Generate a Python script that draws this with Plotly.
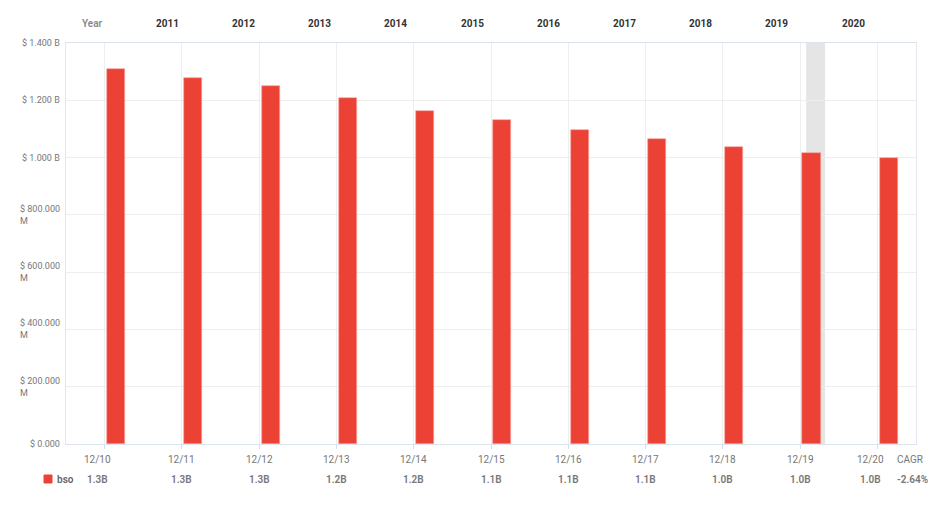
import plotly.graph_objects as go

# ---------------- data ----------------
periods = ["12/10", "12/11", "12/12", "12/13", "12/14", "12/15",
           "12/16", "12/17", "12/18", "12/19", "12/20"]
years = ["Year", "2011", "2012", "2013", "2014", "2015",
         "2016", "2017", "2018", "2019", "2020"]
bso = [1.3075e9, 1.2767e9, 1.2500e9, 1.2069e9, 1.1626e9, 1.1320e9,
       1.0960e9, 1.0650e9, 1.0370e9, 1.0150e9, 0.9985e9]
bso_labels = ["1.3B", "1.3B", "1.3B", "1.2B", "1.2B", "1.1B",
              "1.1B", "1.1B", "1.0B", "1.0B", "1.0B"]
cagr_label = "-2.64%"
series_name = "bso"
y_ticks = [0, 200e6, 400e6, 600e6, 800e6, 1000e6, 1200e6, 1400e6]
y_tick_labels = ["$ 0.000", "$ 200.000<br>M", "$ 400.000<br>M", "$ 600.000<br>M",
                 "$ 800.000<br>M", "$ 1.000 B", "$ 1.200 B", "$ 1.400 B"]
highlight_index = 9

# ---------------- style ----------------
BAR = "#EC4236"
FONT = "Roboto"
W, H = 936, 514
ML, MR, MT, MB = 66, 20, 43, 70
plot_w = W - ML - MR
n = len(periods)
slot = plot_w / n

x = list(range(n))
fig = go.Figure()
fig.add_trace(go.Bar(
    x=x, y=bso, name=series_name, marker_color=BAR,
    marker_line=dict(color="#f3a39d", width=0.6),
    offset=0.03, width=0.235, showlegend=False, hoverinfo="skip",
))

shapes = []
# hover highlight band
shapes.append(dict(type="rect", xref="x", yref="paper", layer="below",
                   x0=highlight_index + 6 / slot, x1=highlight_index + 25 / slot,
                   y0=0, y1=1, fillcolor="#e5e5e5", line_width=0))
# legend swatch
shapes.append(dict(type="rect", xref="paper", yref="paper",
                   xsizemode="pixel", ysizemode="pixel", xanchor=0, yanchor=0,
                   x0=-22, x1=-14, y0=-31, y1=-39,
                   fillcolor=BAR, line=dict(color=BAR, width=1)))

ann = []
# y-axis labels
for v, t in zip(y_ticks, y_tick_labels):
    ann.append(dict(xref="paper", yref="y", x=0, y=v, xshift=-4, text=t,
                    showarrow=False, xanchor="right", yanchor="middle", align="left",
                    font=dict(family=FONT, size=9, color="#777")))
# top year labels (table columns)
col_w = 76.2
for i, t in enumerate(years):
    ann.append(dict(xref="paper", yref="paper",
                    x=(slot / 2 + col_w * i) / plot_w, y=1, yshift=20,
                    text=t, showarrow=False, xanchor="right", yanchor="middle",
                    font=dict(family=FONT, size=10,
                              color="#888" if i == 0 else "#333",
                              weight=600 if i == 0 else 700)))
# bottom period labels and values
for i, (p, vl) in enumerate(zip(periods, bso_labels)):
    sh = -7 if i in (0, n - 1) else 0
    ann.append(dict(xref="x", yref="paper", x=i, y=0, xshift=sh, yshift=-15,
                    text=p, showarrow=False, xanchor="center", yanchor="middle",
                    font=dict(family=FONT, size=10, color="#777")))
    ann.append(dict(xref="x", yref="paper", x=i, y=0, xshift=sh - 12.5, yshift=-35,
                    text=vl, showarrow=False, xanchor="left", yanchor="middle",
                    font=dict(family=FONT, size=10, color="#777", weight=600)))
ann.append(dict(xref="paper", yref="paper", x=1, y=0, xshift=-21, yshift=-15,
                text="CAGR", showarrow=False, xanchor="left", yanchor="middle",
                font=dict(family=FONT, size=10, color="#777")))
ann.append(dict(xref="paper", yref="paper", x=1, y=0, xshift=-21, yshift=-35,
                text=cagr_label, showarrow=False, xanchor="left", yanchor="middle",
                font=dict(family=FONT, size=10, color="#777", weight=600)))
ann.append(dict(xref="paper", yref="paper", x=0, y=0, xshift=-11, yshift=-35,
                text=series_name, showarrow=False, xanchor="left", yanchor="middle",
                font=dict(family=FONT, size=10, color="#666", weight=600)))

fig.update_layout(
    width=W, height=H, margin=dict(l=ML, r=MR, t=MT, b=MB, pad=0),
    paper_bgcolor="white", plot_bgcolor="white",
    shapes=shapes, annotations=ann, bargap=0,
    xaxis=dict(range=[-0.5, n - 0.5], tickvals=x, showticklabels=False,
               showgrid=True, gridcolor="#eeeeee", gridwidth=1,
               ticks="outside", ticklen=4, tickcolor="#d9dfe9",
               showline=True, linecolor="#dde3ec", linewidth=1, mirror=True,
               zeroline=False, fixedrange=True),
    yaxis=dict(range=[0, 1.4e9], tickvals=y_ticks, showticklabels=False,
               showgrid=True, gridcolor="#eeeeee", gridwidth=1,
               showline=True, linecolor="#e3e7ee", linewidth=1, mirror=True,
               zeroline=False, fixedrange=True),
)

fig.write_html("out.html", config={"displayModeBar": False},
               post_script="document.body.style.margin='0';document.body.style.overflow='hidden';")
